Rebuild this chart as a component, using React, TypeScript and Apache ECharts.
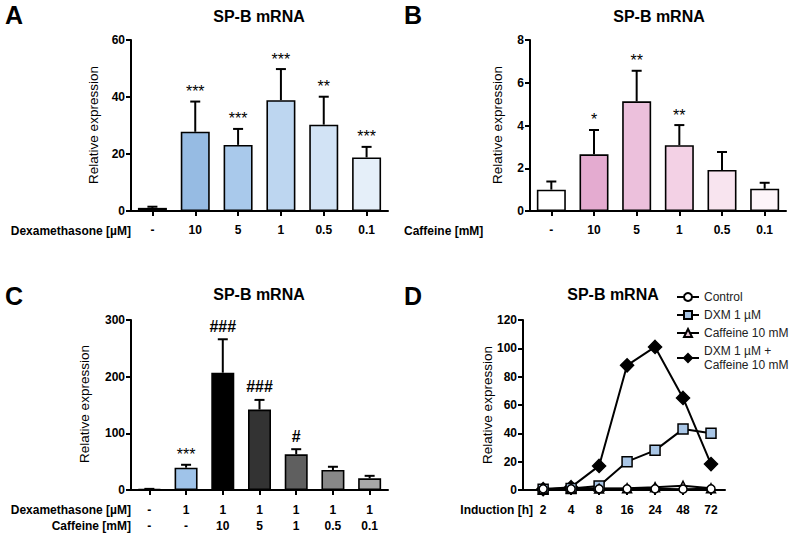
import React, { useEffect, useRef } from "react";
import * as echarts from "echarts";

const FONT = '"Liberation Sans", Arial, Helvetica, sans-serif';

// Panel A – Dexamethasone
const catsA = ["-", "10", "5", "1", "0.5", "0.1"];
const valsA = [1.1, 27.8, 23.2, 38.9, 30.3, 18.8];
const errA = [1.5, 38.4, 28.8, 49.8, 40.1, 22.5];
const sigA = ["", "***", "***", "***", "**", "***"];
const colorsA = ["#ffffff", "#96bbe3", "#a9c9eb", "#bdd6f0", "#d2e3f5", "#e5eff9"];

// Panel B – Caffeine
const catsB = ["-", "10", "5", "1", "0.5", "0.1"];
const valsB = [1.0, 2.65, 5.13, 3.08, 1.92, 1.04];
const errB = [1.38, 3.79, 6.56, 4.02, 2.76, 1.32];
const sigB = ["", "*", "**", "**", "", ""];
const colorsB = ["#ffffff", "#e4abd0", "#ecc0dc", "#f3d1e5", "#f8e4ef", "#fdf4f9"];

// Panel C – combination
const dexC = ["-", "1", "1", "1", "1", "1", "1"];
const cafC = ["-", "-", "10", "5", "1", "0.5", "0.1"];
const valsC = [1.5, 39.4, 207, 142, 63, 35.3, 20.6];
const errC = [2, 44.5, 266, 159, 72, 41, 25];
const sigC = ["", "***", "###", "###", "#", "", ""];
const colorsC = ["#ffffff", "#9fc3e9", "#000000", "#333333", "#5f5f5f", "#888888", "#a8a8a8"];

// Panel D – time course
const hoursD = ["2", "4", "8", "16", "24", "48", "72"];
const controlD = [0.8, 0.8, 0.8, 0.8, 0.8, 0.6, 0.8];
const dxmD = [0.5, 1.0, 2.8, 20, 28, 43, 40];
const cafD = [0.5, 1.0, 1.0, 1.3, 2.0, 3.0, 1.2];
const comboD = [0.6, 2.0, 17, 88, 101, 65, 18.3];
const namesD = ["Control", "DXM 1 µM", "Caffeine 10 mM", "DXM 1 µM +\nCaffeine 10 mM"];

const AX = { color: "#000", width: 2 };

function valAxis(grid: number, max: number, interval: number) {
  return {
    type: "value",
    gridIndex: grid,
    min: 0,
    max,
    interval,
    axisLine: { show: true, onZero: false, lineStyle: AX },
    axisTick: { show: true, length: 5, lineStyle: AX },
    axisLabel: { margin: 6, color: "#000", fontFamily: FONT, fontSize: 12, fontWeight: "bold" },
    splitLine: { show: false },
  };
}

function catAxis(grid: number, data: string[], lineHeight = 14, margin = 12) {
  return {
    type: "category",
    gridIndex: grid,
    data,
    axisLine: { show: true, lineStyle: AX },
    axisTick: { show: true, alignWithLabel: true, length: 5, lineStyle: AX },
    axisLabel: {
      margin,
      color: "#000",
      fontFamily: FONT,
      fontSize: 12,
      fontWeight: "bold",
      lineHeight,
      interval: 0,
    },
    splitLine: { show: false },
  };
}

function barSeries(grid: number, vals: number[], colors: string[], width: number) {
  return {
    type: "bar",
    xAxisIndex: grid,
    yAxisIndex: grid,
    barWidth: width,
    data: vals.map((v, i) => ({
      value: v,
      itemStyle: { color: colors[i], borderColor: "#000", borderWidth: 1.6 },
    })),
    z: 2,
  };
}

function errSeries(grid: number, vals: number[], errs: number[], sigs: string[]) {
  return {
    type: "custom",
    xAxisIndex: grid,
    yAxisIndex: grid,
    data: vals.map((v, i) => [i, v, errs[i]]),
    z: 3,
    renderItem: (params: any, api: any) => {
      const i = api.value(0);
      const base = api.coord([i, api.value(1)]);
      const top = api.coord([i, api.value(2)]);
      const sig = sigs[params.dataIndex];
      const children: any[] = [
        {
          type: "line",
          shape: { x1: base[0], y1: base[1], x2: top[0], y2: top[1] },
          style: { stroke: "#000", lineWidth: 2 },
        },
        {
          type: "line",
          shape: { x1: top[0] - 5, y1: top[1], x2: top[0] + 5, y2: top[1] },
          style: { stroke: "#000", lineWidth: 2 },
        },
      ];
      if (sig) {
        const hash = sig.indexOf("#") >= 0;
        children.push({
          type: "text",
          x: top[0],
          y: top[1] - (hash ? 5 : 2),
          style: {
            text: sig,
            align: "center",
            verticalAlign: "bottom",
            fontFamily: FONT,
            fontSize: 16,
            fontWeight: hash ? "bold" : "normal",
            fill: "#000",
          },
        });
      }
      return { type: "group", children };
    },
  };
}

function lineSeries(name: string, data: number[], symbol: string, size: number, fill: string) {
  return {
    type: "line",
    name,
    xAxisIndex: 3,
    yAxisIndex: 3,
    data: data.map((v, i) => [i, v]),
    symbol,
    symbolSize: size,
    showSymbol: true,
    showAllSymbol: true,
    lineStyle: { color: "#000", width: 2 },
    itemStyle: { color: fill, borderColor: "#000", borderWidth: 1.5 },
  };
}

function txt(text: string, x: number, y: number, opts: any = {}) {
  return {
    type: "text",
    x,
    y,
    rotation: opts.rotation || 0,
    style: {
      text,
      fontFamily: FONT,
      fontSize: opts.fontSize || 12,
      fontWeight: opts.fontWeight || "normal",
      fill: "#000",
      align: opts.align || "center",
      verticalAlign: "middle",
    },
  };
}

export default function App() {
  const ref = useRef<HTMLDivElement>(null);
  useEffect(() => {
    if (!ref.current) return;
    const chart = echarts.init(ref.current, null, { renderer: "svg" });
    const idx = [0, 1, 2, 3, 4, 5, 6];
    chart.setOption({
      animation: false,
      backgroundColor: "#ffffff",
      grid: [
        { left: 131, top: 40, width: 257, height: 171 },
        { left: 530, top: 40, width: 256, height: 171 },
        { left: 131, top: 320, width: 257, height: 170 },
        { left: 523, top: 320, width: 202, height: 170 },
      ],
      xAxis: [
        catAxis(0, catsA),
        catAxis(1, catsB),
        catAxis(2, dexC.map((d, i) => d + "\n" + cafC[i]), 16, 12),
        {
          type: "value",
          gridIndex: 3,
          min: -0.72,
          max: 6.5,
          axisLine: { show: true, onZero: false, lineStyle: AX },
          axisTick: { show: true, length: 5, lineStyle: AX, customValues: idx },
          axisLabel: {
            customValues: idx,
            formatter: (v: number) => hoursD[Math.round(v)] ?? "",
            margin: 14,
            color: "#000",
            fontFamily: FONT,
            fontSize: 12,
            fontWeight: "bold",
          },
          splitLine: { show: false },
        },
      ],
      yAxis: [valAxis(0, 60, 20), valAxis(1, 8, 2), valAxis(2, 300, 100), valAxis(3, 120, 20)],
      legend: {
        left: 671,
        top: 285,
        orient: "vertical",
        itemWidth: 22,
        itemHeight: 10,
        itemGap: 4,
        data: namesD,
        textStyle: { fontFamily: FONT, fontSize: 12, color: "#222", lineHeight: 14 },
      },
      series: [
        barSeries(0, valsA, colorsA, 29),
        errSeries(0, valsA, errA, sigA),
        barSeries(1, valsB, colorsB, 29),
        errSeries(1, valsB, errB, sigB),
        barSeries(2, valsC, colorsC, 23),
        errSeries(2, valsC, errC, sigC),
        lineSeries(namesD[3], comboD, "diamond", 13, "#000000"),
        lineSeries(namesD[1], dxmD, "rect", 10, "#a9c6e6"),
        lineSeries(namesD[2], cafD, "triangle", 9, "#e9c9d7"),
        lineSeries(namesD[0], controlD, "circle", 8, "#ffffff"),
      ],
      graphic: [
        txt("A", 14, 15, { fontSize: 25, fontWeight: "bold" }),
        txt("B", 413, 15, { fontSize: 25, fontWeight: "bold" }),
        txt("C", 14, 296, { fontSize: 25, fontWeight: "bold" }),
        txt("D", 413, 296, { fontSize: 25, fontWeight: "bold" }),
        txt("SP-B mRNA", 259, 16, { fontSize: 16, fontWeight: "bold" }),
        txt("SP-B mRNA", 659, 16, { fontSize: 16, fontWeight: "bold" }),
        txt("SP-B mRNA", 259, 294, { fontSize: 16, fontWeight: "bold" }),
        txt("SP-B mRNA", 613, 294, { fontSize: 16, fontWeight: "bold" }),
        txt("Relative expression", 93, 125, { fontSize: 13.5, rotation: Math.PI / 2 }),
        txt("Relative expression", 497, 125, { fontSize: 13.5, rotation: Math.PI / 2 }),
        txt("Relative expression", 84, 404, { fontSize: 13.5, rotation: Math.PI / 2 }),
        txt("Relative expression", 487, 405, { fontSize: 13.5, rotation: Math.PI / 2 }),
        txt("Dexamethasone [µM]", 131, 231, { fontWeight: "bold", align: "right" }),
        txt("Caffeine [mM]", 404, 231, { fontWeight: "bold", align: "left" }),
        txt("Dexamethasone [µM]", 131, 510, { fontWeight: "bold", align: "right" }),
        txt("Caffeine [mM]", 131, 526, { fontWeight: "bold", align: "right" }),
        txt("Induction [h]", 533, 510, { fontWeight: "bold", align: "right" }),
      ],
    });
    return () => chart.dispose();
  }, []);
  return (
    <div
      ref={ref}
      style={{ position: "absolute", left: 0, top: 0, width: 792, height: 536, background: "#fff" }}
    />
  );
}
